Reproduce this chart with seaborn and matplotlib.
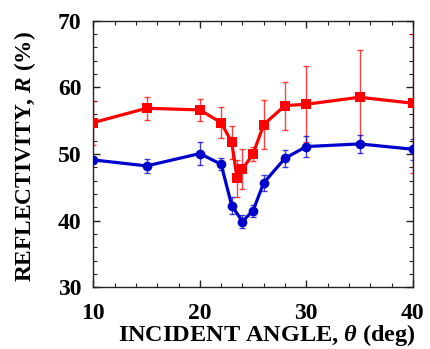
import matplotlib
matplotlib.use("Agg")
import matplotlib.pyplot as plt
import seaborn as sns
import pandas as pd
from matplotlib.ticker import MultipleLocator

# data
red_angle = [10, 15, 20, 22, 23, 23.5, 24, 25, 26, 28, 30, 35, 40]
red_r = [54.7, 56.85, 56.6, 54.7, 51.75, 46.35, 47.7, 50.0, 54.4, 57.25, 57.45, 58.5, 57.6]
red_err = [3.3, 1.75, 1.6, 2.35, 2.5, 2.8, 3.0, 1.0, 3.7, 3.6, 5.7, 7.1, 10.4]

blue_angle = [10, 15, 20, 22, 23, 24, 25, 26, 28, 30, 35, 40]
blue_r = [49.1, 48.2, 50.05, 48.45, 42.25, 39.85, 41.5, 45.65, 49.35, 51.1, 51.5, 50.7]
blue_err = [0.5, 1.0, 1.75, 0.9, 1.3, 1.0, 0.9, 1.25, 1.3, 1.55, 1.3, 1.55]

red_df = pd.DataFrame({"angle": red_angle, "R": red_r})
blue_df = pd.DataFrame({"angle": blue_angle, "R": blue_r})

sns.set_style("ticks")
plt.rcParams['font.family'] = ['Liberation Serif', 'DejaVu Serif']
plt.rcParams['font.weight'] = 'bold'
plt.rcParams['text.color'] = 'black'
plt.rcParams['axes.labelcolor'] = 'black'
plt.rcParams['xtick.color'] = 'black'
plt.rcParams['ytick.color'] = 'black'
plt.rcParams['mathtext.fontset'] = 'custom'
plt.rcParams['mathtext.it'] = 'Liberation Serif:italic:bold'
plt.rcParams['mathtext.rm'] = 'Liberation Serif:bold'

fig = plt.figure(figsize=(4.3, 3.49), dpi=100)
ax = fig.add_axes([0.217, 0.177, 0.743, 0.764])

red = "#ff0000"
blue = "#0000cc"

# error bars
ax.errorbar(red_angle, red_r, yerr=red_err, fmt="none", ecolor=red,
            elinewidth=1, capsize=2, capthick=1, alpha=0.75, zorder=2)
ax.errorbar(blue_angle, blue_r, yerr=blue_err, fmt="none", ecolor=blue,
            elinewidth=1, capsize=2, capthick=1, alpha=0.75, zorder=2)

sns.lineplot(data=red_df, x="angle", y="R", ax=ax, color=red, linewidth=2.3,
             marker="s", markersize=6.8, markeredgewidth=0, zorder=3)
sns.lineplot(data=blue_df, x="angle", y="R", ax=ax, color=blue, linewidth=2.3,
             marker="o", markersize=7, markeredgewidth=0, zorder=3)

ax.set_xlim(10, 40)
ax.set_ylim(30, 70)
ax.xaxis.set_major_locator(MultipleLocator(10))
ax.xaxis.set_minor_locator(MultipleLocator(2))
ax.yaxis.set_major_locator(MultipleLocator(10))
ax.yaxis.set_minor_locator(MultipleLocator(2))
ax.tick_params(which="both", direction="in", top=True, right=True, color="#222222")
ax.tick_params(which="major", length=5, width=1, labelsize=17)
ax.tick_params(axis="x", which="major", pad=11)
ax.tick_params(axis="y", which="major", pad=8.5)
ax.tick_params(which="minor", length=3, width=0.8)
for lab in ax.get_xticklabels() + ax.get_yticklabels():
    lab.set_fontweight("bold")
for s in ax.spines.values():
    s.set_linewidth(1)
    s.set_color("#222222")

ax.set_xlabel(r"INCIDENT ANGLE, $\theta$ (deg)", fontsize=17.5, fontweight="bold", labelpad=-0.8)
ax.xaxis.label.set_x(0.543)
ax.set_ylabel(r"REFLECTIVITY, $R$ (%)", fontsize=16.8, fontweight="bold")
ax.yaxis.set_label_coords(-0.173, 0.49)

fig.savefig("out.png", dpi=100)
